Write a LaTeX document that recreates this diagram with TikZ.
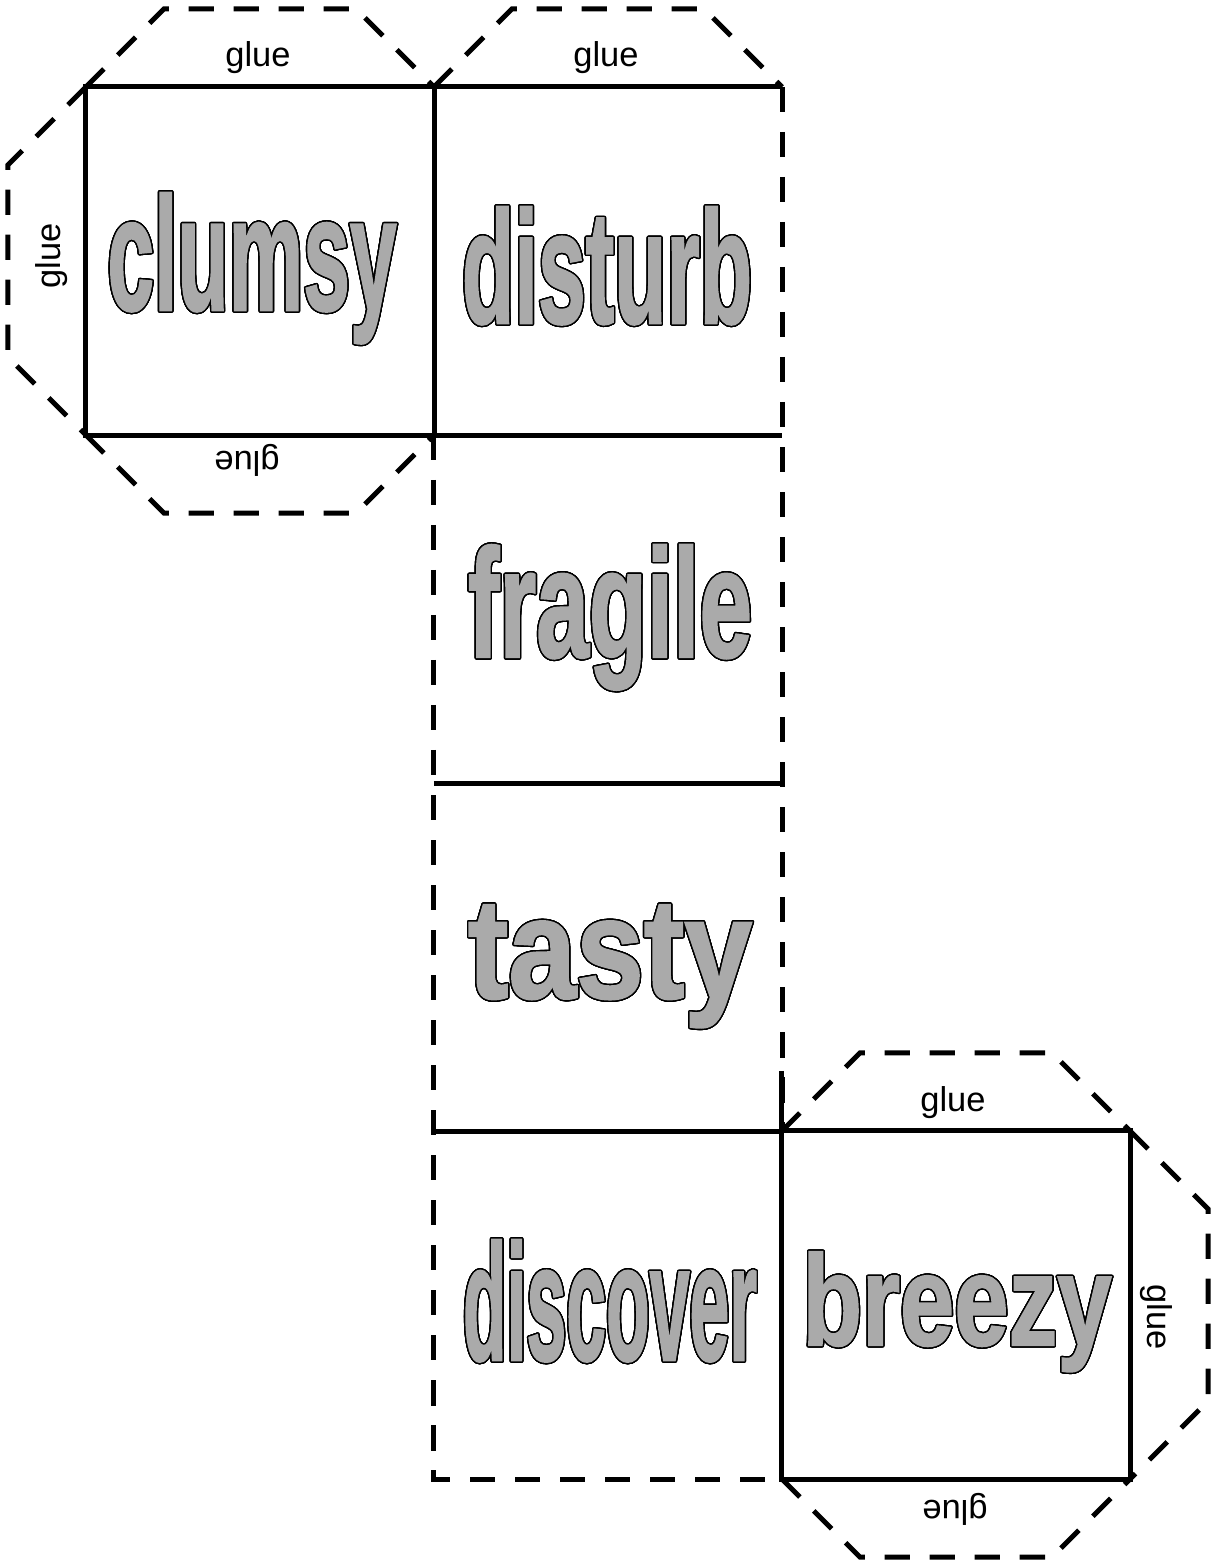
\documentclass[tikz,border=0pt]{standalone}
\usepackage{fontspec}
\setmainfont{Liberation Sans}
\newfontfamily\wordfont{Liberation Sans Bold}[FakeBold=1.6]
\usepackage{graphicx}
\usepackage{contour}
\contourlength{0.4pt}
\contournumber{32}
\definecolor{wordgray}{RGB}{170,170,170}
\newcommand\gluefont{\fontsize{9.8}{11}\selectfont}
\newcommand\wordtext[3]{{\color{wordgray}\contour{black}{\resizebox{#1}{#2}{\wordfont #3}}}}

\begin{document}
\begin{tikzpicture}[x=0.01cm, y=-0.01cm,
    face/.style={minimum size=3.48cm, inner sep=0pt, outer sep=0pt},
    cut/.style={line width=1.4pt},
    fold/.style={line width=1.4pt, dash pattern=on 7.2pt off 5.6pt},
    word/.style={anchor=base, inner sep=0pt},
    glue/.style={font=\gluefont, inner sep=0pt}]
    \useasboundingbox (0,0) rectangle (1215,1564);

    % the six faces
    \node[face] (clumsy) at (260,261) {};
    \node[face] (disturb) at (608,261) {};
    \node[face] (fragile) at (608,609) {};
    \node[face] (tasty) at (608,957) {};
    \node[face] (discover) at (608,1305) {};
    \node[face] (breezy) at (956,1305) {};

    % cut lines
    \draw[cut] (clumsy.north west) rectangle (clumsy.south east);
    \draw[cut] (disturb.north west) -- (disturb.north east);
    \draw[cut] (disturb.south west) -- (disturb.south east);
    \draw[cut] (fragile.south west) -- (fragile.south east);
    \draw[cut] (tasty.south west) -- (tasty.south east);
    \draw[cut] (breezy.north west) rectangle (breezy.south east);
    \coordinate (stub) at ([yshift=0.6cm]breezy.north west);
    \draw[cut] (stub) -- (breezy.north west);

    % fold lines
    \draw[fold] (disturb.north east) -- (tasty.south east);
    \draw[fold] (fragile.north west) -- (discover.south west) -- (discover.south east);

    % glue tabs
    \draw[fold] (clumsy.north west) -- ++(78,-78) -- ++(192,0) -- (clumsy.north east);
    \draw[fold] (clumsy.north west) -- ++(-78,78) -- ++(0,192) -- (clumsy.south west);
    \draw[fold] (clumsy.south west) -- ++(78,78) -- ++(192,0) -- (clumsy.south east);
    \draw[fold] (disturb.north west) -- ++(78,-78) -- ++(192,0) -- (disturb.north east);
    \draw[fold] (breezy.north west) -- ++(78,-78) -- ++(192,0) -- (breezy.north east);
    \draw[fold] (breezy.north east) -- ++(78,78) -- ++(0,192) -- (breezy.south east);
    \draw[fold] (breezy.south west) -- ++(78,78) -- ++(192,0) -- (breezy.south east);

    % glue labels
    \node[glue] (glue1) at (258,58) {glue};
    \node[glue, rotate=90] (glue2) at (52,256) {glue};
    \node[glue, rotate=180] (glue3) at (247,460) {glue};
    \node[glue] (glue4) at (606,58) {glue};
    \node[glue] (glue5) at (953,1103) {glue};
    \node[glue, rotate=-90] (glue6) at (1156,1317) {glue};
    \node[glue, rotate=180] (glue7) at (955,1509) {glue};

    % words
    \node[word] (wclumsy) at (252,310) {\wordtext{2.89cm}{1.17cm}{clumsy}};
    \node[word] (wdisturb) at (607,323) {\wordtext{2.90cm}{1.16cm}{disturb}};
    \node[word] (wfragile) at (610,657) {\wordtext{2.84cm}{1.12cm}{fragile}};
    \node[word] (wtasty) at (610,998) {\wordtext{2.84cm}{0.93cm}{tasty}};
    \node[word] (wdiscover) at (610,1360) {\wordtext{2.94cm}{1.20cm}{discover}};
    \node[word] (wbreezy) at (957,1345) {\wordtext{3.09cm}{0.93cm}{breezy}};
\end{tikzpicture}
\end{document}
